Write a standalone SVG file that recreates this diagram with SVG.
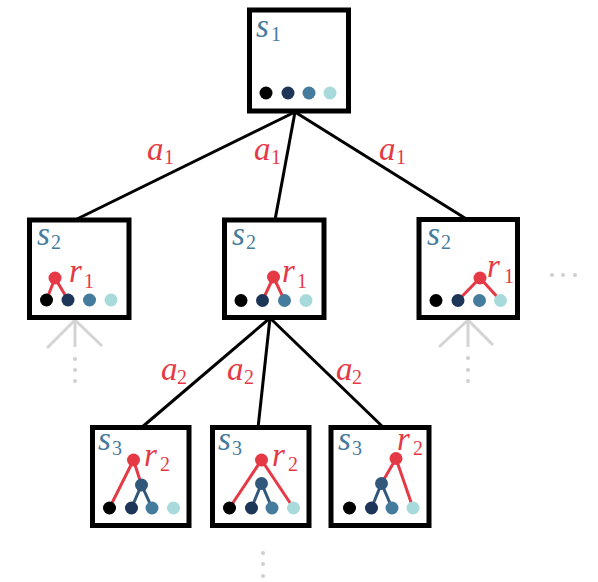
<svg xmlns="http://www.w3.org/2000/svg" width="598" height="582" viewBox="0 0 598 582">
<style>
.box{fill:#fff;stroke:#000;stroke-width:5}
.edge{stroke:#000;stroke-width:3;fill:none}
.ghost{stroke:#d4d4d4;stroke-width:3;fill:none}
.gdot{fill:#cfcfcf}
.rl{stroke:#E63946;stroke-width:3;fill:none}
.bl{stroke:#31587A;stroke-width:3;fill:none}
.d1{fill:#000}.d2{fill:#1D3557}.d3{fill:#457B9D}.d4{fill:#A8DADC}
.rn{fill:#E63946}.bn{fill:#31587A}
.m{font-family:"Liberation Serif",serif;font-style:italic;font-size:33px}
.sub{font-family:"Liberation Serif",serif;font-size:20px}
.s{fill:#457B9D}.r{fill:#E63946}
</style>
<g id="connectors">
<line class="edge" x1="295" y1="112" x2="75" y2="220"/>
<line class="edge" x1="295" y1="112" x2="275" y2="220"/>
<line class="edge" x1="295" y1="112" x2="468" y2="220"/>
<line class="edge" x1="270" y1="318" x2="141" y2="428"/>
<line class="edge" x1="270" y1="318" x2="258" y2="428"/>
<line class="edge" x1="270" y1="318" x2="384" y2="428"/>
<line class="ghost" x1="75" y1="320" x2="47" y2="348"/>
<line class="ghost" x1="75" y1="320" x2="75" y2="347"/>
<line class="ghost" x1="75" y1="320" x2="102" y2="346"/>
<line class="ghost" x1="468" y1="320" x2="439" y2="347"/>
<line class="ghost" x1="468" y1="320" x2="468" y2="347"/>
<line class="ghost" x1="468" y1="320" x2="493" y2="345"/>
<circle class="gdot" cx="75" cy="359" r="2"/><circle class="gdot" cx="75" cy="370" r="2"/><circle class="gdot" cx="75" cy="381" r="2"/>
<circle class="gdot" cx="468" cy="358" r="2"/><circle class="gdot" cx="468" cy="370" r="2"/><circle class="gdot" cx="468" cy="381" r="2"/>
<circle class="gdot" cx="552" cy="275" r="2"/><circle class="gdot" cx="563" cy="275" r="2"/><circle class="gdot" cx="575" cy="275" r="2"/>
<circle class="gdot" cx="263" cy="553" r="2"/><circle class="gdot" cx="263" cy="564" r="2"/><circle class="gdot" cx="263" cy="576" r="2"/>
<text class="m r" x="147" y="160">a</text><text class="sub r" x="164" y="164">1</text>
<text class="m r" x="254" y="160">a</text><text class="sub r" x="271" y="164">1</text>
<text class="m r" x="379" y="160">a</text><text class="sub r" x="396" y="164">1</text>
<text class="m r" x="161" y="380">a</text><text class="sub r" x="177" y="384">2</text>
<text class="m r" x="227" y="380">a</text><text class="sub r" x="244" y="384">2</text>
<text class="m r" x="336" y="380">a</text><text class="sub r" x="352" y="384">2</text>
</g>
<g id="n_s1">
<rect class="box" x="249.5" y="10" width="99" height="101"/>
<text class="m s" x="256" y="37">s</text><text class="sub s" x="271" y="41">1</text>
<circle class="d1" cx="266" cy="93" r="6.5"/><circle class="d2" cx="288" cy="93" r="6.5"/><circle class="d3" cx="309" cy="93" r="6.5"/><circle class="d4" cx="330" cy="93" r="6.5"/>
</g>
<g id="n_s2_left">
<rect class="box" x="29.5" y="220" width="99.5" height="97.5"/>
<text class="m s" x="37" y="245">s</text><text class="sub s" x="51" y="249">2</text>
<path class="rl" d="M46.5 300 L55 278 L68 300"/>
<circle class="d1" cx="46.5" cy="300" r="6.5"/><circle class="d2" cx="68" cy="300" r="6.5"/><circle class="d3" cx="89.5" cy="300" r="6.5"/><circle class="d4" cx="111" cy="300" r="6.5"/>
<circle class="rn" cx="55" cy="278" r="6.5"/>
<text class="m r" x="69" y="282">r</text><text class="sub r" x="84" y="288">1</text>
</g>
<g id="n_s2_mid">
<rect class="box" x="224.5" y="220" width="99.5" height="97.5"/>
<text class="m s" x="232" y="245">s</text><text class="sub s" x="246" y="249">2</text>
<path class="rl" d="M262.5 300.5 L273.5 277 L284.5 300.5"/>
<circle class="d1" cx="241" cy="300.5" r="6.5"/><circle class="d2" cx="262.5" cy="300.5" r="6.5"/><circle class="d3" cx="284.5" cy="300.5" r="6.5"/><circle class="d4" cx="306" cy="300.5" r="6.5"/>
<circle class="rn" cx="273.5" cy="277" r="6.5"/>
<text class="m r" x="282" y="282">r</text><text class="sub r" x="297" y="288">1</text>
</g>
<g id="n_s2_right">
<rect class="box" x="419" y="219.5" width="98.5" height="98"/>
<text class="m s" x="427" y="245">s</text><text class="sub s" x="441" y="249">2</text>
<path class="rl" d="M458 300.5 L480 278 L500.5 300.5"/>
<circle class="d1" cx="436" cy="300.5" r="6.5"/><circle class="d2" cx="458" cy="300.5" r="6.5"/><circle class="d3" cx="479.5" cy="300.5" r="6.5"/><circle class="d4" cx="500.5" cy="300.5" r="6.5"/>
<circle class="rn" cx="480" cy="278" r="6.5"/>
<text class="m r" x="487" y="277">r</text><text class="sub r" x="504" y="283">1</text>
</g>
<g id="n_s3_left">
<rect class="box" x="92.5" y="427.5" width="96.5" height="98"/>
<text class="m s" x="98" y="450">s</text><text class="sub s" x="112" y="455">3</text>
<path class="bl" d="M131.5 508 L141.5 485 L152 508"/>
<path class="rl" d="M109.5 508 L133.5 460 L141.5 485"/>
<circle class="d1" cx="109.5" cy="508" r="6.5"/><circle class="d2" cx="131.5" cy="508" r="6.5"/><circle class="d3" cx="152" cy="508" r="6.5"/><circle class="d4" cx="173.5" cy="508" r="6.5"/>
<circle class="bn" cx="141.5" cy="485" r="6.5"/>
<circle class="rn" cx="133.5" cy="460" r="6.5"/>
<text class="m r" x="144" y="466">r</text><text class="sub r" x="160" y="471">2</text>
</g>
<g id="n_s3_mid">
<rect class="box" x="212.5" y="427.5" width="96.5" height="98"/>
<text class="m s" x="218" y="450">s</text><text class="sub s" x="232" y="455">3</text>
<path class="bl" d="M251.5 508 L261.5 483.5 L272 508"/>
<path class="rl" d="M229.5 508 L261.5 460 L293.5 508"/>
<circle class="d1" cx="229.5" cy="508" r="6.5"/><circle class="d2" cx="251.5" cy="508" r="6.5"/><circle class="d3" cx="272" cy="508" r="6.5"/><circle class="d4" cx="293.5" cy="508" r="6.5"/>
<circle class="bn" cx="261.5" cy="483.5" r="6.5"/>
<circle class="rn" cx="261.5" cy="460" r="6.5"/>
<text class="m r" x="272" y="466">r</text><text class="sub r" x="288" y="471">2</text>
</g>
<g id="n_s3_right">
<rect class="box" x="331" y="427.5" width="98" height="98"/>
<text class="m s" x="338" y="450">s</text><text class="sub s" x="352" y="455">3</text>
<path class="bl" d="M371.5 508 L381.5 483.5 L392 508"/>
<path class="rl" d="M381.5 483.5 L396 458.5 L413 508"/>
<circle class="d1" cx="349.5" cy="508" r="6.5"/><circle class="d2" cx="371.5" cy="508" r="6.5"/><circle class="d3" cx="392" cy="508" r="6.5"/><circle class="d4" cx="413" cy="508" r="6.5"/>
<circle class="bn" cx="381.5" cy="483.5" r="6.5"/>
<circle class="rn" cx="396" cy="458.5" r="6.5"/>
<text class="m r" x="397" y="450">r</text><text class="sub r" x="413" y="455">2</text>
</g>
</svg>
